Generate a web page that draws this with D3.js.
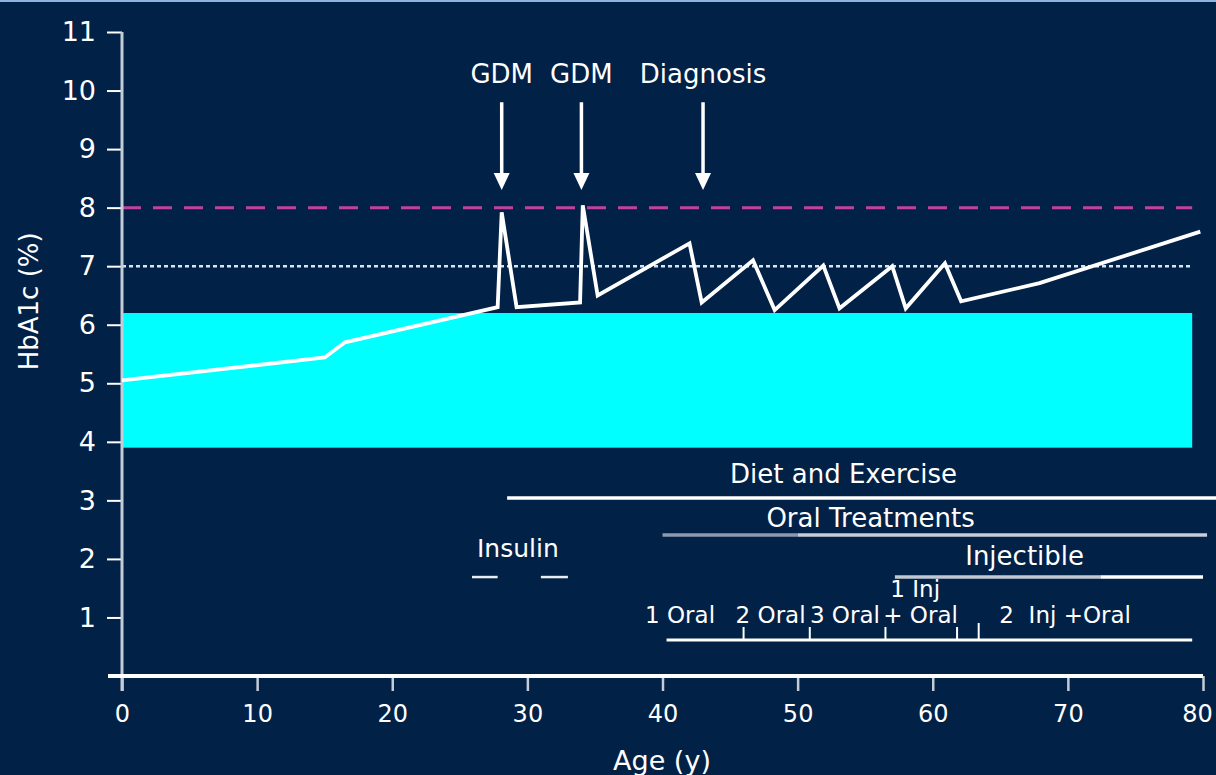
<!DOCTYPE html>
<html>
<head>
<meta charset="utf-8">
<script src="https://cdn.jsdelivr.net/npm/d3@7/dist/d3.min.js"></script>
<style>
  html, body { margin: 0; padding: 0; background: #022146; overflow: hidden; }
  svg { display: block; }
  text { font-family: "DejaVu Sans", sans-serif; fill: #ffffff; }
</style>
</head>
<body>
<svg id="chart" width="1216" height="775"></svg>
<script>
// ---------- data ----------
const ages  = [0, 15, 16.5, 27.8, 28.1, 29.2, 33.9, 34.1, 35.2, 42.0, 42.9, 46.7, 48.3, 51.9, 53.1, 57.0, 58.0, 60.9, 62.1, 67.9, 79.8];
const hba1c = [5.05, 5.44, 5.70, 6.30, 7.92, 6.30, 6.38, 8.04, 6.50, 7.39, 6.38, 7.10, 6.25, 7.01, 6.28, 7.00, 6.28, 7.05, 6.40, 6.71, 7.59];

const xTicks = [0, 10, 20, 30, 40, 50, 60, 70, 80];
const yTicks = [1, 2, 3, 4, 5, 6, 7, 8, 9, 10, 11];

const targetRange = [3.9, 6.2];
const targetAges = [0, 79.2];
const thresholdHigh = 8;
const thresholdMid = 7;

const eventLabels = ["GDM", "GDM", "Diagnosis"];
const eventAges = [28.1, 34.0, 43.0];

const treatmentNames = ["Diet and Exercise", "Oral Treatments", "Injectible"];
const treatmentStart = [28.5, 40, 57.2];
const treatmentEnd   = [81, 80.3, 80];
const treatmentLevel = [3.04, 2.41, 1.69];
const treatmentLabelAge = [53.4, 55.4, 66.8];
const treatmentLabelLevel = [3.3, 2.55, 1.9];

const insulinPeriods = [[25.9, 27.8], [31.0, 33.0]];
const insulinLevel = 1.69;
const insulinLabel = "Insulin";
const insulinLabelAge = 29.3;
const insulinLabelLevel = 2.03;

const regimenSpan = [40.3, 79.2];
const regimenLevel = 0.615;
const regimenTicks = [46.0, 50.9, 56.5, 61.8, 63.4];
const regimenLabels = ["1 Oral", "2 Oral", "3 Oral", "+ Oral", "1 Inj", "2  Inj +Oral"];
const regimenLabelAges = [41.3, 48.0, 53.5, 59.1, 58.7, 69.8];
const regimenLabelLevels = [0.9, 0.9, 0.9, 0.9, 1.35, 0.9];

// ---------- scales ----------
const svg = d3.select("#chart");
const x = d3.scaleLinear().domain([0, 80]).range([122, 1203]);
const y = d3.scaleLinear().domain([0, 11]).range([676, 32]);

// top border strip
svg.append("rect").attr("x", 0).attr("y", 0).attr("width", 1216).attr("height", 2).attr("fill", "#8db3de");

// target band
svg.append("rect")
  .attr("x", x(targetAges[0])).attr("width", x(targetAges[1]) - x(targetAges[0]))
  .attr("y", y(targetRange[1])).attr("height", y(targetRange[0]) - y(targetRange[1]))
  .attr("fill", "#00ffff");

// threshold lines
svg.append("line")
  .attr("x1", x(targetAges[0])).attr("x2", x(targetAges[1]))
  .attr("y1", y(thresholdHigh)).attr("y2", y(thresholdHigh))
  .attr("stroke", "#c2419f").attr("stroke-width", 3).attr("stroke-dasharray", "19,12");
svg.append("line")
  .attr("x1", x(targetAges[0])).attr("x2", x(targetAges[1]))
  .attr("y1", y(thresholdMid)).attr("y2", y(thresholdMid))
  .attr("stroke", "#d6e4f4").attr("stroke-width", 2.5).attr("stroke-dasharray", "4,3");

// y axis
const yAxis = svg.append("g").attr("transform", `translate(${x(0)},0)`)
  .call(d3.axisLeft(y).tickValues(yTicks).tickSize(15).tickPadding(11).tickFormat(d3.format("d")));
yAxis.select(".domain").remove();
yAxis.selectAll(".tick line").attr("stroke", "#ffffff").attr("stroke-width", 2);
yAxis.selectAll(".tick text").attr("font-size", 27).attr("font-family", "DejaVu Sans").attr("fill", "#fff");
svg.append("line").attr("x1", x(0)).attr("x2", x(0)).attr("y1", y(11)).attr("y2", y(0) + 15)
  .attr("stroke", "#c4ccd8").attr("stroke-width", 3);

// x axis
const xAxis = svg.append("g").attr("transform", `translate(0,${y(0)})`)
  .call(d3.axisBottom(x).tickValues(xTicks).tickSize(15).tickPadding(14).tickFormat(d3.format("d")));
xAxis.select(".domain").remove();
xAxis.selectAll(".tick line").attr("stroke", "#c4ccd8").attr("stroke-width", 2.5);
xAxis.selectAll(".tick text").attr("font-size", 24).attr("font-family", "DejaVu Sans").attr("fill", "#fff")
  .attr("dx", d => d === 80 ? -6 : 0);
svg.append("line").attr("x1", x(0) - 14).attr("x2", x(80)).attr("y1", y(0)).attr("y2", y(0))
  .attr("stroke", "#ffffff").attr("stroke-width", 4);

// axis titles
svg.append("text").attr("transform", `translate(38,${y(6.4)}) rotate(-90)`)
  .attr("text-anchor", "middle").attr("font-size", 26).text("HbA1c (%)");
svg.append("text").attr("x", 662).attr("y", 770)
  .attr("text-anchor", "middle").attr("font-size", 27).text("Age (y)");

// HbA1c line
const pts = ages.map((a, i) => [a, hba1c[i]]);
svg.append("path").datum(pts)
  .attr("d", d3.line().x(d => x(d[0])).y(d => y(d[1])))
  .attr("fill", "none").attr("stroke", "#ffffff").attr("stroke-width", 3.8).attr("stroke-linejoin", "miter");

// event arrows
eventAges.forEach((a, i) => {
  const cx = x(a);
  const top = y(9.8), tip = y(8.3);
  svg.append("line").attr("x1", cx).attr("x2", cx).attr("y1", top).attr("y2", tip - 12)
    .attr("stroke", "#ffffff").attr("stroke-width", 3.5);
  svg.append("path")
    .attr("d", `M${cx - 8},${tip - 17} L${cx + 8},${tip - 17} L${cx},${tip} Z`)
    .attr("fill", "#ffffff");
  svg.append("text").attr("x", cx).attr("y", y(10.13)).attr("text-anchor", "middle")
    .attr("font-size", 26).text(eventLabels[i]);
});

// treatments
const treatColors = [["#ffffff"], ["#8c9ab0", "#c6ced9"], ["#c0c8d3", "#ffffff"]];
const treatSplit = [null, 50, 72.4];
treatmentNames.forEach((n, i) => {
  const s = treatmentStart[i], e = treatmentEnd[i], lv = treatmentLevel[i];
  if (treatSplit[i] === null) {
    svg.append("line").attr("x1", x(s)).attr("x2", x(e)).attr("y1", y(lv)).attr("y2", y(lv))
      .attr("stroke", treatColors[i][0]).attr("stroke-width", 3.5);
  } else {
    svg.append("line").attr("x1", x(s)).attr("x2", x(treatSplit[i])).attr("y1", y(lv)).attr("y2", y(lv))
      .attr("stroke", treatColors[i][0]).attr("stroke-width", 3.5);
    svg.append("line").attr("x1", x(treatSplit[i])).attr("x2", x(e)).attr("y1", y(lv)).attr("y2", y(lv))
      .attr("stroke", treatColors[i][1]).attr("stroke-width", 3.5);
  }
  svg.append("text").attr("x", x(treatmentLabelAge[i])).attr("y", y(treatmentLabelLevel[i]))
    .attr("text-anchor", "middle").attr("font-size", 26).text(n);
});

// insulin
insulinPeriods.forEach(p => {
  svg.append("line").attr("x1", x(p[0])).attr("x2", x(p[1]))
    .attr("y1", y(insulinLevel)).attr("y2", y(insulinLevel))
    .attr("stroke", "#e8eef6").attr("stroke-width", 2.5);
});
svg.append("text").attr("x", x(insulinLabelAge)).attr("y", y(insulinLabelLevel))
  .attr("text-anchor", "middle").attr("font-size", 25).text(insulinLabel);

// regimen timeline
svg.append("line").attr("x1", x(regimenSpan[0])).attr("x2", x(regimenSpan[1]))
  .attr("y1", y(regimenLevel)).attr("y2", y(regimenLevel))
  .attr("stroke", "#ffffff").attr("stroke-width", 3);
regimenTicks.forEach((a, i) => {
  svg.append("line").attr("x1", x(a)).attr("x2", x(a))
    .attr("y1", y(regimenLevel)).attr("y2", y(regimenLevel) - (i === 4 ? 17 : 13))
    .attr("stroke", "#ffffff").attr("stroke-width", 2);
});
regimenLabels.forEach((t, i) => {
  svg.append("text").attr("x", x(regimenLabelAges[i])).attr("y", y(regimenLabelLevels[i]))
    .attr("text-anchor", "middle").attr("font-size", 23).style("white-space", "pre").text(t);
});
</script>
</body>
</html>
